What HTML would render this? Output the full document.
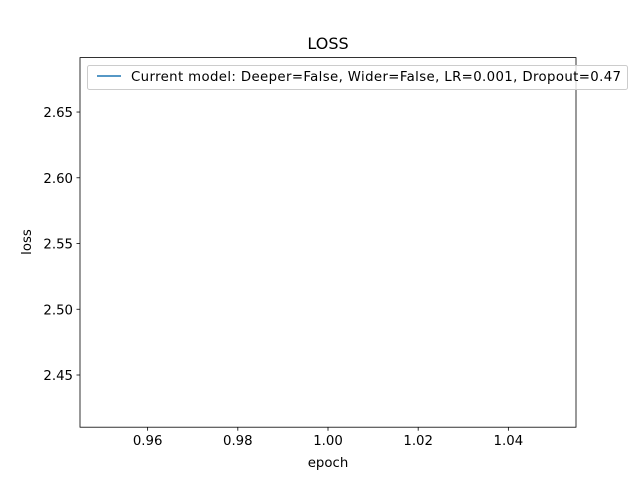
<!DOCTYPE html>
<html><head><meta charset="utf-8"><style>
html,body{margin:0;padding:0;background:#fff;}
svg text{font-family:"DejaVu Sans","Liberation Sans",sans-serif;fill:#000;}
</style></head><body>
<svg id="chart" width="640" height="480" xmlns="http://www.w3.org/2000/svg">
<rect width="640" height="480" fill="#fff"/>
<text x="328" y="49" font-size="16" text-anchor="middle">LOSS</text>
<g id="xticks"></g>
<g id="yticks"></g>
<g id="series"></g>
<rect x="80" y="57.6" width="496" height="369.6" fill="none" stroke="#000" stroke-width="0.8"/>
<text x="328" y="467" font-size="13.3" text-anchor="middle">epoch</text>
<text x="31" y="242" font-size="13.3" text-anchor="middle" transform="rotate(-90 31 242)">loss</text>
<g>
<rect x="87.5" y="65.5" width="540" height="24" rx="2" fill="#fff" fill-opacity="0.8" stroke="#ccc" stroke-width="1"/>
<line x1="97" y1="76" x2="121" y2="76" stroke="#1f77b4" stroke-width="1.5"/>
<text x="131" y="81" font-size="13.3" textLength="490" lengthAdjust="spacing">Current model: Deeper=False, Wider=False, LR=0.001, Dropout=0.47</text>
</g>
</svg>
<script>
const epochs = [1];
const lossValues = [2.55];
const xTickLabels = ["0.96","0.98","1.00","1.02","1.04"];
const yTickLabels = ["2.45","2.50","2.55","2.60","2.65"];
const NS = "http://www.w3.org/2000/svg";
const X0=80,X1=576,Y0=427.2,Y1=57.6;
const xmin=0.945,xmax=1.055,ymin=2.4103,ymax=2.6914;
function xs(v){return X0+(v-xmin)/(xmax-xmin)*(X1-X0);}
function ys(v){return Y0-(v-ymin)/(ymax-ymin)*(Y0-Y1);}
function mk(tag,attrs,parent){const e=document.createElementNS(NS,tag);for(const k in attrs)e.setAttribute(k,attrs[k]);parent.appendChild(e);return e;}
const xg=document.getElementById('xticks'),yg=document.getElementById('yticks'),sg=document.getElementById('series');
xTickLabels.forEach(t=>{const x=xs(parseFloat(t));
 const l=mk('line',{x1:x,x2:x,y1:Y0,y2:Y0+3.5,stroke:'#000','stroke-width':0.8},xg);
 
 
 const tx=mk('text',{x:x,y:Y0+18,'font-size':13.3,'text-anchor':'middle'},xg);tx.textContent=t;
 
 
});
yTickLabels.forEach(t=>{const y=ys(parseFloat(t));
 const l=mk('line',{x1:X0-3.5,x2:X0,y1:y,y2:y,stroke:'#000','stroke-width':0.8},yg);
 
 
 const tx=mk('text',{x:X0-7,y:y+5,'font-size':13.3,'text-anchor':'end'},yg);tx.textContent=t;
 
 
});
const pts=epochs.map((e,i)=>xs(e)+','+ys(lossValues[i])).join(' ');
const pl=mk('polyline',{points:pts,fill:'none',stroke:'#1f77b4','stroke-width':1.5},sg);


</script>
</body></html>
